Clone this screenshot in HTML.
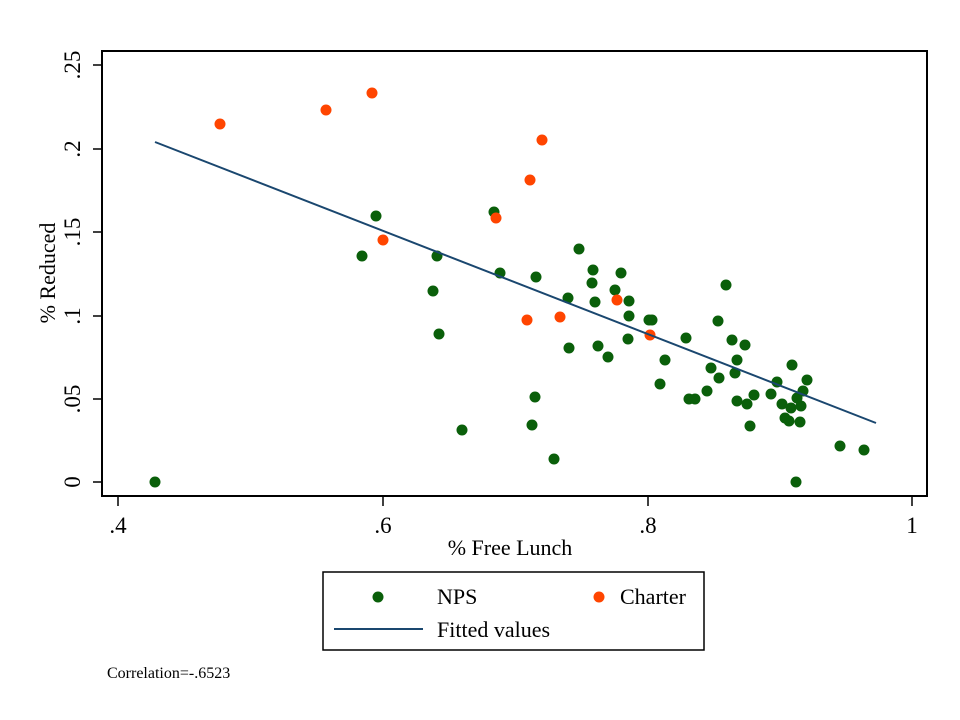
<!DOCTYPE html>
<html><head><style>body{margin:0;background:#fff}svg{display:block}</style></head><body>
<svg width="960" height="720" xmlns="http://www.w3.org/2000/svg" font-family="Liberation Serif, serif">
<rect width="960" height="720" fill="#fff"/>
<rect x="102" y="51" width="825" height="445" fill="none" stroke="#000" stroke-width="2"/>
<g stroke="#000" stroke-width="1.5">
<line x1="93" y1="482" x2="102" y2="482"/><line x1="93" y1="399" x2="102" y2="399"/><line x1="93" y1="316" x2="102" y2="316"/><line x1="93" y1="232" x2="102" y2="232"/><line x1="93" y1="149" x2="102" y2="149"/><line x1="93" y1="65" x2="102" y2="65"/>
<line x1="118" y1="496" x2="118" y2="506"/><line x1="383" y1="496" x2="383" y2="506"/><line x1="648" y1="496" x2="648" y2="506"/><line x1="912" y1="496" x2="912" y2="506"/>
</g>
<g font-size="23" text-anchor="middle" fill="#000">
<text transform="translate(80,482) rotate(-90)">0</text>
<text transform="translate(80,399) rotate(-90)">.05</text>
<text transform="translate(80,316) rotate(-90)">.1</text>
<text transform="translate(80,232) rotate(-90)">.15</text>
<text transform="translate(80,149) rotate(-90)">.2</text>
<text transform="translate(80,65) rotate(-90)">.25</text>
<text x="118" y="533">.4</text><text x="383" y="533">.6</text><text x="648" y="533">.8</text><text x="912" y="533">1</text>
<text x="510" y="555" font-size="22">% Free Lunch</text>
<text transform="translate(55,273) rotate(-90)" font-size="22">% Reduced</text>
</g>
<g fill="#0a5f0a">
<circle cx="155" cy="482" r="5.5"/><circle cx="376" cy="216" r="5.5"/><circle cx="362" cy="256" r="5.5"/><circle cx="433" cy="291" r="5.5"/><circle cx="437" cy="256" r="5.5"/><circle cx="439" cy="334" r="5.5"/><circle cx="462" cy="430" r="5.5"/><circle cx="494" cy="212" r="5.5"/><circle cx="500" cy="273" r="5.5"/><circle cx="536" cy="277" r="5.5"/><circle cx="535" cy="397" r="5.5"/><circle cx="532" cy="425" r="5.5"/><circle cx="554" cy="459" r="5.5"/><circle cx="568" cy="298" r="5.5"/><circle cx="569" cy="348" r="5.5"/><circle cx="579" cy="249" r="5.5"/><circle cx="593" cy="270" r="5.5"/><circle cx="592" cy="283" r="5.5"/><circle cx="595" cy="302" r="5.5"/><circle cx="598" cy="346" r="5.5"/><circle cx="608" cy="357" r="5.5"/><circle cx="615" cy="290" r="5.5"/><circle cx="621" cy="273" r="5.5"/><circle cx="629" cy="301" r="5.5"/><circle cx="629" cy="316" r="5.5"/><circle cx="628" cy="339" r="5.5"/><circle cx="649" cy="320" r="5.5"/><circle cx="652" cy="320" r="5.5"/><circle cx="665" cy="360" r="5.5"/><circle cx="660" cy="384" r="5.5"/><circle cx="686" cy="338" r="5.5"/><circle cx="689" cy="399" r="5.5"/><circle cx="695" cy="399" r="5.5"/><circle cx="707" cy="391" r="5.5"/><circle cx="711" cy="368" r="5.5"/><circle cx="718" cy="321" r="5.5"/><circle cx="719" cy="378" r="5.5"/><circle cx="726" cy="285" r="5.5"/><circle cx="732" cy="340" r="5.5"/><circle cx="737" cy="360" r="5.5"/><circle cx="735" cy="373" r="5.5"/><circle cx="737" cy="401" r="5.5"/><circle cx="745" cy="345" r="5.5"/><circle cx="747" cy="404" r="5.5"/><circle cx="750" cy="426" r="5.5"/><circle cx="754" cy="395" r="5.5"/><circle cx="771" cy="394" r="5.5"/><circle cx="777" cy="382" r="5.5"/><circle cx="782" cy="404" r="5.5"/><circle cx="789" cy="421" r="5.5"/><circle cx="791" cy="408" r="5.5"/><circle cx="792" cy="365" r="5.5"/><circle cx="796" cy="482" r="5.5"/><circle cx="797" cy="398" r="5.5"/><circle cx="801" cy="406" r="5.5"/><circle cx="800" cy="422" r="5.5"/><circle cx="803" cy="391" r="5.5"/><circle cx="807" cy="380" r="5.5"/><circle cx="840" cy="446" r="5.5"/><circle cx="864" cy="450" r="5.5"/><circle cx="785" cy="418" r="5.5"/>
</g>
<g fill="#ff4500">
<circle cx="220" cy="124" r="5.5"/><circle cx="326" cy="110" r="5.5"/><circle cx="372" cy="93" r="5.5"/><circle cx="383" cy="240" r="5.5"/><circle cx="496" cy="218" r="5.5"/><circle cx="530" cy="180" r="5.5"/><circle cx="542" cy="140" r="5.5"/><circle cx="560" cy="317" r="5.5"/><circle cx="527" cy="320" r="5.5"/><circle cx="617" cy="300" r="5.5"/><circle cx="650" cy="335" r="5.5"/>
</g>
<line x1="155" y1="142" x2="876" y2="423" stroke="#1a476f" stroke-width="2"/>
<rect x="323" y="572" width="381" height="78" fill="#fff" stroke="#000" stroke-width="1.5"/>
<circle cx="378" cy="597" r="5.5" fill="#0a5f0a"/><circle cx="599" cy="597" r="5.5" fill="#ff4500"/>
<line x1="334" y1="629" x2="423" y2="629" stroke="#1a476f" stroke-width="2"/>
<g font-size="22" fill="#000">
<text x="437" y="604">NPS</text><text x="620" y="604">Charter</text><text x="437" y="637">Fitted values</text>
</g>
<text x="107" y="678" font-size="16" fill="#000">Correlation=-.6523</text>
</svg>
</body></html>
